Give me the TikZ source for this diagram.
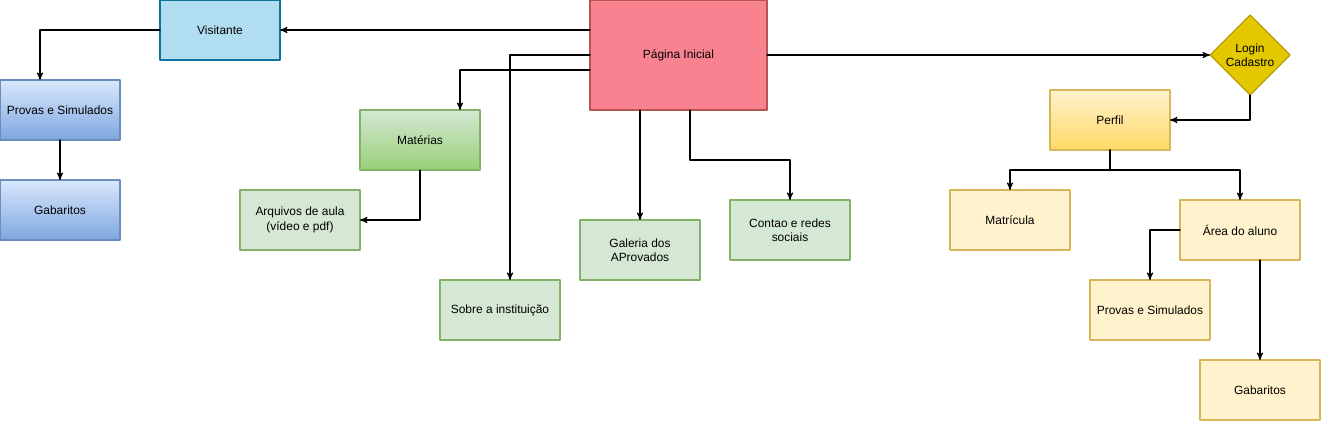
\documentclass[tikz,border=0pt]{standalone}
\usepackage{fontspec}
\setmainfont{Liberation Sans}
\usetikzlibrary{arrows,shapes.geometric}
\definecolor{visfill}{HTML}{B1DDF0}
\definecolor{visdraw}{HTML}{10739E}
\definecolor{bluetop}{HTML}{DAE8FC}
\definecolor{bluebot}{HTML}{7EA6E0}
\definecolor{bluedraw}{HTML}{6C8EBF}
\definecolor{pinkfill}{HTML}{F8828F}
\definecolor{pinkdraw}{HTML}{B85450}
\definecolor{greenfill}{HTML}{D5E8D4}
\definecolor{greenbot}{HTML}{97D077}
\definecolor{greendraw}{HTML}{82B366}
\definecolor{goldfill}{HTML}{E3C800}
\definecolor{golddraw}{HTML}{B09500}
\definecolor{yellfill}{HTML}{FFF2CC}
\definecolor{yellbot}{HTML}{FFD966}
\definecolor{yelldraw}{HTML}{D6B656}
\def\px{0.02cm}
\tikzset{
    box/.style={rectangle,inner sep=0pt,outer sep=0pt,minimum width=120*\px,minimum height=60*\px,align=center,line width=0.6pt,font=\fontsize{6.8}{8.2}\selectfont},
    bluebox/.style={box,draw=bluedraw,top color=bluetop,bottom color=bluebot},
    greenbox/.style={box,draw=greendraw,fill=greenfill},
    greengrad/.style={box,draw=greendraw,top color=greenfill,bottom color=greenbot},
    yellbox/.style={box,draw=yelldraw,fill=yellfill},
    yellgrad/.style={box,draw=yelldraw,top color=yellfill,bottom color=yellbot},
    link/.style={->,line width=0.6pt}
}

\begin{document}
\begin{tikzpicture}[line cap=round,line join=round,>=stealth',x=\px,y=-\px]
    \useasboundingbox (0,0) rectangle (1321,421);
    % visitor side
    \node[box,draw=visdraw,fill=visfill] (visitante) at (220,30) {Visitante};
    \node[bluebox] (provasv) at (60,110) {Provas e Simulados};
    \node[bluebox] (gabv) at (60,210) {Gabaritos};
    % home page and its pages
    \node[box,draw=pinkdraw,fill=pinkfill,minimum width=177*\px,minimum height=110*\px] (inicial) at (678.5,55) {Página Inicial};
    \node[greengrad] (materias) at (420,140) {Matérias};
    \node[greenbox] (arquivos) at (300,220) {Arquivos de aula\\(vídeo e pdf)};
    \node[greenbox] (sobre) at (500,310) {Sobre a instituição};
    \node[greenbox] (galeria) at (640,250) {Galeria dos\\AProvados};
    \node[greenbox] (contao) at (790,230) {Contao e redes\\sociais};
    % student side
    \node[diamond,draw=golddraw,fill=goldfill,line width=0.6pt,inner sep=0pt,outer sep=0pt,minimum width=80*\px,minimum height=80*\px,align=center,font=\fontsize{6.8}{8.2}\selectfont] (login) at (1250,55) {Login\\Cadastro};
    \node[yellgrad] (perfil) at (1110,120) {Perfil};
    \node[yellbox] (matricula) at (1010,220) {Matrícula};
    \node[yellbox] (area) at (1240,230) {Área do aluno};
    \node[yellbox] (provasa) at (1150,310) {Provas e Simulados};
    \node[yellbox] (gaba) at (1260,390) {Gabaritos};

    \draw[link] (inicial.west |- visitante) -- (visitante.east);
    \draw[link] (visitante.west) -| ([xshift=-20*\px]provasv.north);
    \draw[link] (provasv.south) -- (gabv.north);
    \draw[link] ([yshift=-15*\px]inicial.west) -| ([xshift=40*\px]materias.north);
    \draw[link] (inicial.west) -| ([xshift=10*\px]sobre.north);
    \draw[link] (materias.south) |- (arquivos.east);
    \draw[link] (galeria.north |- inicial.south) -- (galeria.north);
    \draw[link] ([xshift=11.5*\px]inicial.south) -- ++(0,50) -| (contao.north);
    \draw[link] (inicial.east) -- (login.west);
    \draw[link] (login.south) |- (perfil.east);
    \draw[link] (perfil.south) -- ++(0,20) -| (matricula.north);
    \draw[link] (perfil.south) -- ++(0,20) -| (area.north);
    \draw[link] (area.west) -| (provasa.north);
    \draw[link] (gaba.north |- area.south) -- (gaba.north);
\end{tikzpicture}
\end{document}
